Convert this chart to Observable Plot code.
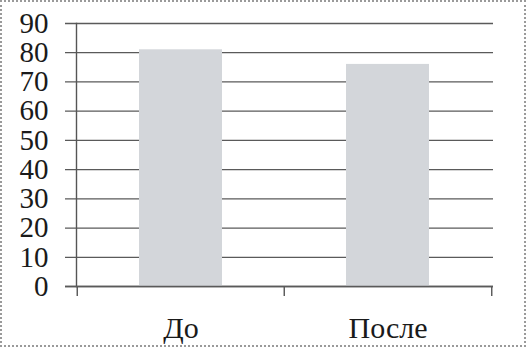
<!DOCTYPE html>
<html><head><meta charset="utf-8">
<script src="https://cdn.jsdelivr.net/npm/d3@7"></script>
<script src="https://cdn.jsdelivr.net/npm/@observablehq/plot@0.6"></script>
<style>
html,body{margin:0;padding:0;background:#fff;}
#wrap{position:relative;width:526px;height:347px;overflow:hidden;}
#border{position:absolute;left:0;top:0;width:526px;height:347px;box-sizing:border-box;border:2px dotted #9a9a9a;pointer-events:none;}
</style>
</head><body>
<div id="wrap"><div id="chart"></div><div id="border"></div></div>
<script>
const categories = ["До", "После"];
const values = [81, 76];
const yTicks = [0, 10, 20, 30, 40, 50, 60, 70, 80, 90];

const data = categories.map((c, i) => ({category: c, value: values[i]}));

const W = 526, H = 347, mL = 76, mR = 35, mT = 23, mB = 61;
const half = (W - mL - mR) / categories.length / 2;
const font = "'Liberation Serif', 'Times New Roman', serif";
const lineStyle = {stroke: "#555555", strokeWidth: 1.4};

const chart = Plot.plot({
  width: W, height: H,
  marginLeft: mL, marginRight: mR, marginTop: mT, marginBottom: mB,
  style: {fontFamily: font, background: "transparent", color: "#1a1a1a"},
  x: {domain: categories, paddingInner: 0.6, paddingOuter: 0.3, align: 0.5},
  y: {domain: [0, 90]},
  marks: [
    Plot.ruleY(yTicks, {y: d => d, stroke: "#5a5a5a", strokeWidth: 1.3, insetLeft: -11, insetRight: -2}),
    Plot.barY(data, {x: "category", y: "value", fill: "#d3d6da"}),
    Plot.frame({anchor: "left", ...lineStyle}),
    Plot.ruleX(categories, {x: d => d, dx: -half, y1: 0, y2: 0, insetBottom: -10, ...lineStyle}),
    Plot.ruleX(categories.slice(-1), {x: d => d, dx: half, y1: 0, y2: 0, insetBottom: -10, ...lineStyle}),
    Plot.ruleY([0], {y: d => d, stroke: "#5a5a5a", strokeWidth: 1.3, insetLeft: -11, insetRight: -2}),
    Plot.axisY({ticks: yTicks, tickSize: 0, tickPadding: 28, fontSize: 29, fontFamily: font, label: null}),
    Plot.axisX({tickSize: 0, tickPadding: 30, fontSize: 30, fontFamily: font, label: null})
  ]
});
document.getElementById("chart").appendChild(chart);
</script>
</body></html>
